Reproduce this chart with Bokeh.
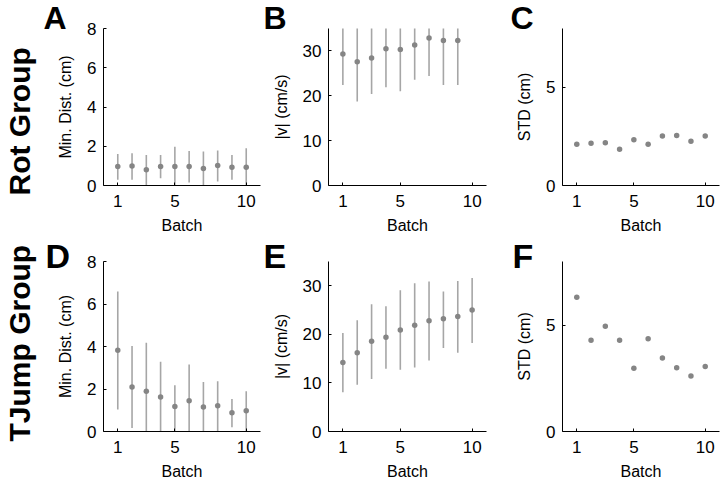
from bokeh.plotting import figure
from bokeh.layouts import column, row
from bokeh.models import Title, FixedTicker, ColumnDataSource
from bokeh.embed import file_html
from bokeh.resources import INLINE

FONT = "Liberation Sans"

# ---------------- data ----------------
batch = [1, 2, 3, 4, 5, 6, 7, 8, 9, 10]
batch_rot_speed = [1, 2, 3, 4, 5, 6, 7, 8, 9]

rot_dist_mean = [0.97, 1.00, 0.80, 0.97, 0.97, 0.97, 0.86, 1.02, 0.93, 0.93]
rot_dist_lo = [0.29, 0.29, 0.00, 0.37, 0.00, 0.15, 0.00, 0.20, 0.29, 0.00]
rot_dist_hi = [1.61, 1.64, 1.56, 1.56, 1.98, 1.76, 1.73, 1.78, 1.56, 1.90]

rot_speed_mean = [29.3, 27.6, 28.4, 30.5, 30.3, 31.3, 32.9, 32.3, 32.3]
rot_speed_lo = [22.4, 18.7, 20.4, 21.9, 21.0, 23.6, 24.4, 22.4, 22.4]
rot_speed_hi = [36.2, 36.5, 36.4, 39.1, 39.6, 39.0, 41.4, 42.2, 42.2]

rot_std = [2.10, 2.15, 2.18, 1.85, 2.33, 2.10, 2.52, 2.55, 2.25, 2.52]

tj_dist_mean = [3.82, 2.10, 1.89, 1.62, 1.18, 1.45, 1.15, 1.21, 0.88, 0.98]
tj_dist_lo = [1.03, 0.16, 0.00, 0.00, 0.00, 0.00, 0.00, 0.00, 0.20, 0.00]
tj_dist_hi = [6.59, 4.02, 4.18, 3.28, 2.18, 3.15, 2.33, 2.37, 1.53, 1.89]

tj_speed_mean = [14.2, 16.2, 18.6, 19.4, 20.9, 21.9, 22.8, 23.2, 23.7, 25.0]
tj_speed_lo = [8.1, 9.6, 10.8, 12.9, 12.7, 13.2, 14.6, 17.2, 16.2, 18.2]
tj_speed_hi = [20.3, 22.9, 26.2, 25.8, 29.1, 30.5, 30.9, 28.8, 31.0, 31.6]

tj_std = [6.32, 4.30, 4.95, 4.30, 2.98, 4.36, 3.46, 3.00, 2.61, 3.06]

x_ticks = [1, 5, 10]
dist_ticks = [0, 2, 4, 6, 8]
speed_ticks = [0, 10, 20, 30]
std_ticks = [0, 5]

POINT = "#858585"
BAR = "#a6a6a6"


def make_fig(frame_w, frame_h, left, right, top, bottom, ylim, yticks, ylabel):
    p = figure(frame_width=frame_w, frame_height=frame_h,
               x_range=(0, 11), y_range=ylim,
               output_backend="svg", toolbar_location=None,
               min_border_left=left, min_border_right=right,
               min_border_top=top, min_border_bottom=bottom)
    p.outline_line_color = None
    p.xgrid.visible = False
    p.ygrid.visible = False
    p.background_fill_color = "white"
    p.border_fill_color = "white"
    p.xaxis.ticker = FixedTicker(ticks=x_ticks)
    p.yaxis.ticker = FixedTicker(ticks=yticks)
    p.xaxis.axis_label = "Batch"
    p.yaxis.axis_label = ylabel
    for ax in (p.xaxis, p.yaxis):
        ax.axis_line_color = "black"
        ax.axis_line_width = 1
        ax.major_tick_line_color = "black"
        ax.major_tick_in = 3
        ax.major_tick_out = 0
        ax.minor_tick_line_color = None
        ax.major_label_text_font = FONT
        ax.major_label_text_font_size = "17px"
        ax.major_label_text_color = "black"
        ax.axis_label_text_font = FONT
        ax.axis_label_text_font_size = "16px"
        ax.axis_label_text_font_style = "normal"
        ax.axis_label_text_color = "black"
    p.xaxis.major_label_standoff = 9
    p.xaxis.axis_label_standoff = 7
    p.yaxis.major_label_standoff = 7
    p.yaxis.axis_label_standoff = 10
    return p


def add_errbars(p, x, mean, lo, hi):
    src = ColumnDataSource(dict(x=x, mean=mean, lo=lo, hi=hi))
    p.segment(x0="x", y0="lo", x1="x", y1="hi", source=src,
              line_color=BAR, line_width=1.6)
    p.scatter(x="x", y="mean", source=src, size=5.5,
              fill_color=POINT, line_color=None)


def add_points(p, x, y):
    p.scatter(x=x, y=y, size=5.5, fill_color=POINT, line_color=None)


def letter(p, text, size, offset, standoff):
    p.add_layout(Title(text=text, text_font=FONT, text_font_size=size,
                       text_font_style="bold", text_color="black",
                       align="left", offset=offset, standoff=standoff,
                       vertical_align="bottom"), "above")


def label_fig(frame_h, top, bottom, text, offset):
    p = figure(frame_width=10, frame_height=frame_h,
               x_range=(0, 1), y_range=(0, 1),
               x_axis_type=None, y_axis_type=None,
               output_backend="svg", toolbar_location=None,
               min_border_left=28, min_border_right=0,
               min_border_top=top, min_border_bottom=bottom)
    p.outline_line_color = None
    p.grid.visible = False
    p.background_fill_color = "white"
    p.border_fill_color = "white"
    p.add_layout(Title(text=text, text_font=FONT, text_font_size="30px",
                       text_font_style="bold", text_color="black",
                       align="left", offset=offset, standoff=-14,
                       vertical_align="bottom"), "left")
    return p


# row 1 : height 238 (top 28, frame 157, bottom 53)
L1 = label_fig(157, 28, 53, "Rot Group", -10)

pA = make_fig(157, 157, 65, 1, 28, 53, (0, 8), dist_ticks, "Min. Dist. (cm)")
add_errbars(pA, batch, rot_dist_mean, rot_dist_lo, rot_dist_hi)
letter(pA, "A", "32px", -60, -15)

pB = make_fig(158, 157, 67, 14, 28, 53, (0, 35), speed_ticks, "|v| (cm/s)")
add_errbars(pB, batch_rot_speed, rot_speed_mean, rot_speed_lo, rot_speed_hi)
letter(pB, "B", "32px", -65, -15)

pC = make_fig(157, 157, 62, 1, 28, 53, (0, 8), std_ticks, "STD (cm)")
add_points(pC, batch, rot_std)
letter(pC, "C", "32px", -52, -15)

# row 2 : height 240 (top 23, frame 170, bottom 47)
L2 = label_fig(170, 23, 47, "TJump Group", -10)

pD = make_fig(157, 170, 65, 1, 23, 47, (0, 8), dist_ticks, "Min. Dist. (cm)")
add_errbars(pD, batch, tj_dist_mean, tj_dist_lo, tj_dist_hi)
letter(pD, "D", "34px", -58, -27)

pE = make_fig(158, 170, 67, 14, 23, 47, (0, 35), speed_ticks, "|v| (cm/s)")
add_errbars(pE, batch, tj_speed_mean, tj_speed_lo, tj_speed_hi)
letter(pE, "E", "34px", -65, -27)

pF = make_fig(157, 170, 62, 1, 23, 47, (0, 8), std_ticks, "STD (cm)")
add_points(pF, batch, tj_std)
letter(pF, "F", "34px", -50, -27)

layout = column(row(L1, pA, pB, pC), row(L2, pD, pE, pF))

open("out.html", "w").write(file_html(layout, INLINE))
